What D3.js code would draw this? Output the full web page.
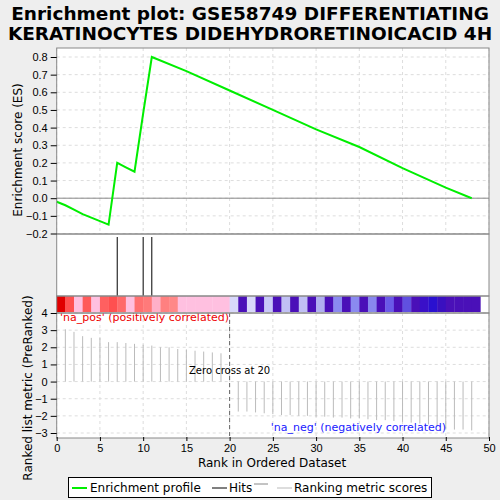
<!DOCTYPE html>
<html><head><meta charset="utf-8">
<script src="https://cdn.jsdelivr.net/npm/d3@7"></script>
<style>body{margin:0;background:#eeeeee;font-family:"DejaVu Sans",sans-serif}</style>
</head><body>
<svg width="500" height="500"></svg>
<script>
// running enrichment score by rank
const esRanks = [0,1,2,3,4,5,6,7,8,9,10,11,15,20,25,30,35,40,45,48];
const esValues = [-0.02,-0.04,-0.065,-0.09,-0.11,-0.13,-0.15,0.2,0.175,0.15,0.48,0.80,0.72,0.61,0.5,0.39,0.29,0.17,0.06,0.0];
const hitRanks = [7,10,11];
const metricRanks = [1,2,3,4,5,6,7,8,9,10,11,12,13,14,15,16,17,18,19,
  21,22,23,24,25,26,27,28,29,30,31,32,33,34,35,36,37,38,39,40,41,42,43,44,45,46,47,48];
const metricValues = [3.05,2.9,2.65,2.55,2.55,2.3,2.3,2.25,2.2,2.15,2.1,2.0,2.0,1.9,1.85,1.8,1.75,1.7,1.65,
  -1.75,-1.75,-1.8,-1.85,-1.9,-1.95,-1.95,-2.0,-2.0,-2.05,-2.05,-2.1,-2.1,-2.15,-2.15,-2.2,-2.25,-2.25,-2.3,-2.35,-2.4,-2.45,-2.5,-2.6,-2.75,-2.8,-2.8,-2.85];
const barColors = ["#e00000","#ff5050","#ffc0e0","#ff5a5a","#ffc0e0","#ff6060","#ff5050","#ff6a6a","#ffc0e0","#ff7070","#ff7a7a","#ffb0c8","#ff8080","#ff8888","#ffc0e0","#ffc0e0","#ffc0e0","#ffc0e0","#ffc0e0","#ffc0e0",
  "#d8d8fa","#4a10b8","#d8d8fa","#4a10b8","#c8c8f8","#4a10b8","#c0c0f4","#4a10b8","#c0c0f4","#4a10b8","#b0b0f0","#4a10b8","#8a8af0","#4a10b8","#8a8af0","#4a10b8","#8888ee","#4a10b8","#6a5ae8","#4a10b8","#6050e0","#4a10b8","#3a10c8","#2a10d0","#3a10c0","#4a10b8","#4a10b8","#4a10b8","#4a10b8"];
const xTicks = d3.range(0,51,5);

const svg = d3.select("svg");
const L=56.7, R=489;
const x = d3.scaleLinear().domain([0,50]).range([L,R]);
const yES = d3.scaleLinear().domain([-0.2,0.8]).range([233.5,57]);
const yM = d3.scaleLinear().domain([-3,4]).range([433,313]);

svg.append("text").attr("x",250).attr("y",20).attr("text-anchor","middle").attr("font-weight","bold").attr("font-size",18.5).text("Enrichment plot: GSE58749 DIFFERENTIATING");
svg.append("text").attr("x",250).attr("y",40).attr("text-anchor","middle").attr("font-weight","bold").attr("font-size",18.5).text("KERATINOCYTES DIDEHYDRORETINOICACID 4H");

svg.append("rect").attr("x",L).attr("y",48).attr("width",R-L).attr("height",390).attr("fill","#fff");

const grid = svg.append("g").attr("stroke","#ddd").attr("stroke-dasharray","3,3");
xTicks.forEach(t=>{grid.append("line").attr("x1",x(t)).attr("x2",x(t)).attr("y1",48).attr("y2",234);
  grid.append("line").attr("x1",x(t)).attr("x2",x(t)).attr("y1",313).attr("y2",438);});
d3.range(-0.2,0.81,0.1).forEach(t=>grid.append("line").attr("x1",L).attr("x2",R).attr("y1",yES(t)).attr("y2",yES(t)));
d3.range(-3,5).forEach(t=>grid.append("line").attr("x1",L).attr("x2",R).attr("y1",yM(t)).attr("y2",yM(t)));

svg.append("line").attr("x1",L).attr("x2",R).attr("y1",yES(0)).attr("y2",yES(0)).attr("stroke","#888");
svg.append("path").datum(esRanks.map((r,i)=>[r,esValues[i]]))
  .attr("d",d3.line().x(d=>x(d[0])).y(d=>yES(d[1])))
  .attr("fill","none").attr("stroke","#00ee00").attr("stroke-width",2);

// hits
svg.selectAll(".hit").data(hitRanks).join("line").attr("x1",d=>x(d)).attr("x2",d=>x(d))
  .attr("y1",237).attr("y2",296).attr("stroke","#000");
// color bar
svg.selectAll(".cb").data(barColors).join("rect").attr("x",(d,i)=>x(i)).attr("width",(d,i)=>x(i+1)-x(i)+0.3)
  .attr("y",296).attr("height",16).attr("fill",d=>d);

// metric
svg.selectAll(".m").data(metricRanks).join("line").attr("x1",d=>x(d)).attr("x2",d=>x(d))
  .attr("y1",yM(0)).attr("y2",(d,i)=>yM(metricValues[i])).attr("stroke","#bbb");
svg.append("line").attr("x1",x(20)).attr("x2",x(20)).attr("y1",313).attr("y2",438).attr("stroke","#666").attr("stroke-dasharray","4,3");
svg.append("text").attr("x",x(20)).attr("y",yM(0.45)).attr("text-anchor","middle").attr("font-size",10).text("Zero cross at 20");
svg.append("text").attr("x",60).attr("y",321).attr("fill","#e00").attr("font-size",11).text("'na_pos' (positively correlated)");
svg.append("text").attr("x",446).attr("y",431).attr("text-anchor","end").attr("fill","#2020ff").attr("font-size",11).text("'na_neg' (negatively correlated)");

// borders & axes
[[48,234],[234,296],[296,313],[313,438]].forEach(([a,b])=>svg.append("rect").attr("x",L).attr("y",a).attr("width",R-L).attr("height",b-a).attr("fill","none").attr("stroke","#888"));
svg.append("g").attr("transform",`translate(${L},0)`).call(d3.axisLeft(yES).tickValues(d3.range(-0.2,0.81,0.1)).tickFormat(d3.format(".1f")).tickSizeOuter(0))
  .call(g=>{g.select(".domain").remove();g.selectAll("text").attr("font-size",11).attr("fill","#000");});
svg.append("g").attr("transform",`translate(${L},0)`).call(d3.axisLeft(yM).ticks(8).tickFormat(d3.format("d")).tickSizeOuter(0))
  .call(g=>{g.select(".domain").remove();g.selectAll("text").attr("font-size",11).attr("fill","#000");});
svg.append("g").attr("transform","translate(0,437)").call(d3.axisBottom(x).tickValues(xTicks).tickSize(4).tickSizeOuter(0))
  .call(g=>{g.select(".domain").remove();g.selectAll("text").attr("font-size",11).attr("fill","#000");});

svg.append("text").attr("x",272).attr("y",467).attr("text-anchor","middle").attr("font-size",12).text("Rank in Ordered Dataset");
svg.append("text").attr("transform","translate(22,150) rotate(-90)").attr("text-anchor","middle").attr("font-size",12).text("Enrichment score (ES)");
svg.append("text").attr("transform","translate(32,388) rotate(-90)").attr("text-anchor","middle").attr("font-size",12).text("Ranked list metric (PreRanked)");

// legend
const lg = svg.append("g");
lg.append("rect").attr("x",68.5).attr("y",477.5).attr("width",363).attr("height",20).attr("fill","#fff").attr("stroke","#000");
lg.append("line").attr("x1",72).attr("x2",87).attr("y1",488).attr("y2",488).attr("stroke","#00ee00").attr("stroke-width",2);
lg.append("text").attr("x",90).attr("y",492).attr("font-size",12).text("Enrichment profile");
lg.append("line").attr("x1",212).attr("x2",227).attr("y1",488).attr("y2",488).attr("stroke","#000");
lg.append("text").attr("x",229).attr("y",492).attr("font-size",12).text("Hits");
lg.append("line").attr("x1",254).attr("x2",268).attr("y1",484).attr("y2",484).attr("stroke","#888");
lg.append("line").attr("x1",277).attr("x2",292).attr("y1",488).attr("y2",488).attr("stroke","#bbb");
lg.append("text").attr("x",294).attr("y",492).attr("font-size",12).text("Ranking metric scores");
</script>
</body></html>
